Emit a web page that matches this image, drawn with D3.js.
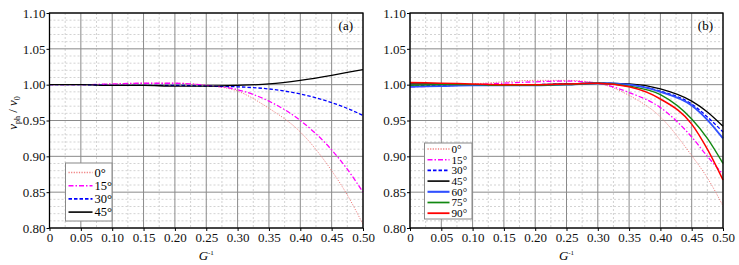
<!DOCTYPE html>
<html><head><meta charset="utf-8">
<script src="https://cdn.jsdelivr.net/npm/d3@7"></script>
<style>
body{margin:0;background:#fff;}
svg text{font-family:"Liberation Serif","Times New Roman",serif;}
</style></head>
<body><svg id="c" width="739" height="265"></svg>
<script>
// ---- data ----
const gInv = [0, 0.05, 0.10, 0.15, 0.20, 0.25, 0.30, 0.35, 0.40, 0.45, 0.475, 0.50];
const xTicks = [0, 0.05, 0.10, 0.15, 0.20, 0.25, 0.30, 0.35, 0.40, 0.45, 0.50];
const yTicks = [0.80, 0.85, 0.90, 0.95, 1.00, 1.05, 1.10];
const anglesA = ["0°", "15°", "30°", "45°"];
const anglesB = ["0°", "15°", "30°", "45°", "60°", "75°", "90°"];
// panel (a)
const a0  = [1.000,1.000,1.001,1.002,1.002,0.999,0.991,0.967,0.934,0.880,0.846,0.805];
const a15 = [1.000,1.000,1.001,1.002,1.002,0.999,0.993,0.977,0.950,0.909,0.882,0.850];
const a30 = [1.000,1.000,0.999,0.999,0.999,0.998,0.997,0.994,0.987,0.975,0.967,0.957];
const a45 = [1.000,1.000,0.999,0.999,0.998,0.998,0.999,1.001,1.006,1.013,1.017,1.021];
// panel (b)
const b0  = [0.998,0.999,1.001,1.004,1.006,1.006,1.002,0.985,0.955,0.901,0.870,0.831];
const b15 = [0.997,0.998,1.000,1.002,1.004,1.005,1.002,0.989,0.968,0.927,0.900,0.875];
const b30 = [0.998,0.999,0.999,0.999,1.000,1.001,1.002,1.000,0.991,0.973,0.955,0.934];
const b45 = [1.001,1.001,1.000,1.000,1.000,1.001,1.002,1.001,0.994,0.977,0.962,0.942];
const b60 = [0.997,0.998,0.999,0.999,0.999,1.000,1.002,1.000,0.990,0.971,0.951,0.925];
const b75 = [0.999,1.000,1.000,0.999,0.999,1.000,1.002,0.998,0.986,0.952,0.925,0.890];
const b90 = [1.003,1.002,1.001,1.000,1.000,1.001,1.002,0.997,0.980,0.945,0.910,0.867];

// ---- styles ----
const styles = {
  "0°":  {color:"#f08080", dash:"1.2,1.4", w:1},
  "15°": {color:"#ff00ff", dash:"5,2,1.5,2", w:1.3},
  "30°": {color:"#0000ff", dash:"3.5,2", w:1.3},
  "45°": {color:"#000000", dash:null, w:1.3},
  "60°": {color:"#3050ff", dash:null, w:1.8},
  "75°": {color:"#118811", dash:null, w:1.4},
  "90°": {color:"#ff0000", dash:null, w:1.5}
};

const svg = d3.select("#c");
const plotTop = 13, plotBottom = 228;
const y = d3.scaleLinear().domain([0.80, 1.10]).range([plotBottom, plotTop]);

function panel(x0, x1, seriesList, names, label, showYLabel, legendBox) {
  const x = d3.scaleLinear().domain([0, 0.5]).range([x0, x1]);
  const g = svg.append("g");
  // minor grid
  const minorX = d3.range(0.025, 0.5, 0.05);
  const minorY = d3.range(0, 31).map(i => 0.80 + i * 0.01).filter((v, i) => i % 5 !== 0);
  g.selectAll(".mx").data(minorX).join("line")
    .attr("x1", d => x(d)).attr("x2", d => x(d)).attr("y1", plotTop).attr("y2", plotBottom)
    .attr("stroke", "#c8c8c8").attr("stroke-width", 0.8).attr("stroke-dasharray", "2,2");
  g.selectAll(".my").data(minorY).join("line")
    .attr("x1", x0).attr("x2", x1).attr("y1", d => y(d)).attr("y2", d => y(d))
    .attr("stroke", "#c8c8c8").attr("stroke-width", 0.8).attr("stroke-dasharray", "2,2");
  // major grid
  g.selectAll(".gx").data(xTicks).join("line")
    .attr("x1", d => x(d)).attr("x2", d => x(d)).attr("y1", plotTop).attr("y2", plotBottom)
    .attr("stroke", "#8a8a8a").attr("stroke-width", 1);
  g.selectAll(".gy").data(yTicks).join("line")
    .attr("x1", x0).attr("x2", x1).attr("y1", d => y(d)).attr("y2", d => y(d))
    .attr("stroke", "#8a8a8a").attr("stroke-width", 1);

  // curves
  const line = d3.line().x((d, i) => x(gInv[i])).y(d => y(d)).curve(d3.curveMonotoneX);
  names.forEach((n, i) => {
    const s = styles[n];
    g.append("path").attr("d", line(seriesList[i]))
      .attr("fill", "none").attr("stroke", s.color).attr("stroke-width", s.w)
      .attr("stroke-dasharray", s.dash);
  });

  // frame
  g.append("rect").attr("x", x0).attr("y", plotTop).attr("width", x1 - x0).attr("height", plotBottom - plotTop)
    .attr("fill", "none").attr("stroke", "#000").attr("stroke-width", 1.3);

  // axes
  const ax = g.append("g").attr("transform", `translate(0,${plotBottom})`)
    .call(d3.axisBottom(x).tickValues(xTicks).tickSize(3).tickSizeOuter(0)
      .tickFormat(d => d === 0 ? "0" : d3.format(".2f")(d)));
  const ay = g.append("g").attr("transform", `translate(${x0},0)`)
    .call(d3.axisLeft(y).tickValues(yTicks).tickSize(3).tickSizeOuter(0).tickFormat(d3.format(".2f")));
  [ax, ay].forEach(a => {
    a.select(".domain").remove();
    a.selectAll("text").attr("font-size", 13).attr("fill", "#111")
      .attr("font-family", "Liberation Serif, Times New Roman, serif");
    a.selectAll("line").attr("stroke", "#000");
  });
  ax.selectAll("text").attr("y", 4).attr("dy", "0.75em");
  ay.selectAll("text").attr("x", -4);

  // x label
  const xl = g.append("text").attr("x", (x0 + x1) / 2).attr("y", 260)
    .attr("text-anchor", "middle").attr("font-size", 13);
  xl.append("tspan").attr("font-style", "italic").text("G");
  xl.append("tspan").attr("font-size", 7).attr("dy", -5).text("-1");

  if (showYLabel) {
    const yl = g.append("text").attr("transform", "translate(17,113) rotate(-90)")
      .attr("text-anchor", "middle").attr("font-size", 13).attr("font-style", "italic");
    yl.append("tspan").text("v");
    yl.append("tspan").attr("font-size", 8).attr("dy", 3).attr("font-style", "normal").text("ph");
    yl.append("tspan").attr("dy", -3).attr("font-style", "normal").text(" / ");
    yl.append("tspan").text("v");
    yl.append("tspan").attr("font-size", 8).attr("dy", 3).attr("font-style", "normal").text("0");
  }

  // panel label
  g.append("text").attr("x", x1 - 10).attr("y", 30).attr("text-anchor", "end")
    .attr("font-size", 13).text(label);

  // legend
  const lb = legendBox;
  g.append("rect").attr("x", lb.x).attr("y", lb.y).attr("width", lb.w).attr("height", lb.h)
    .attr("fill", "#fff").attr("stroke", "#888").attr("stroke-width", 1);
  names.forEach((n, i) => {
    const s = styles[n];
    const yy = lb.y + lb.first + i * lb.step;
    g.append("line").attr("x1", lb.x + 3).attr("x2", lb.x + 3 + lb.lineW).attr("y1", yy).attr("y2", yy)
      .attr("stroke", s.color).attr("stroke-width", s.w + 0.3).attr("stroke-dasharray", s.dash);
    g.append("text").attr("x", lb.x + 5 + lb.lineW).attr("y", yy).attr("dy", "0.35em")
      .attr("font-size", lb.fs).text(n);
  });
}

panel(49.5, 363, [a0, a15, a30, a45], anglesA, "(a)", true,
  {x: 65.5, y: 163, w: 46.5, h: 58, first: 9.5, step: 13.2, lineW: 24, fs: 12.5});
panel(410, 723, [b0, b15, b30, b45, b60, b75, b90], anglesB, "(b)", false,
  {x: 424.5, y: 143, w: 47.5, h: 76, first: 6, step: 10.7, lineW: 22, fs: 11.2});
</script></body></html>
